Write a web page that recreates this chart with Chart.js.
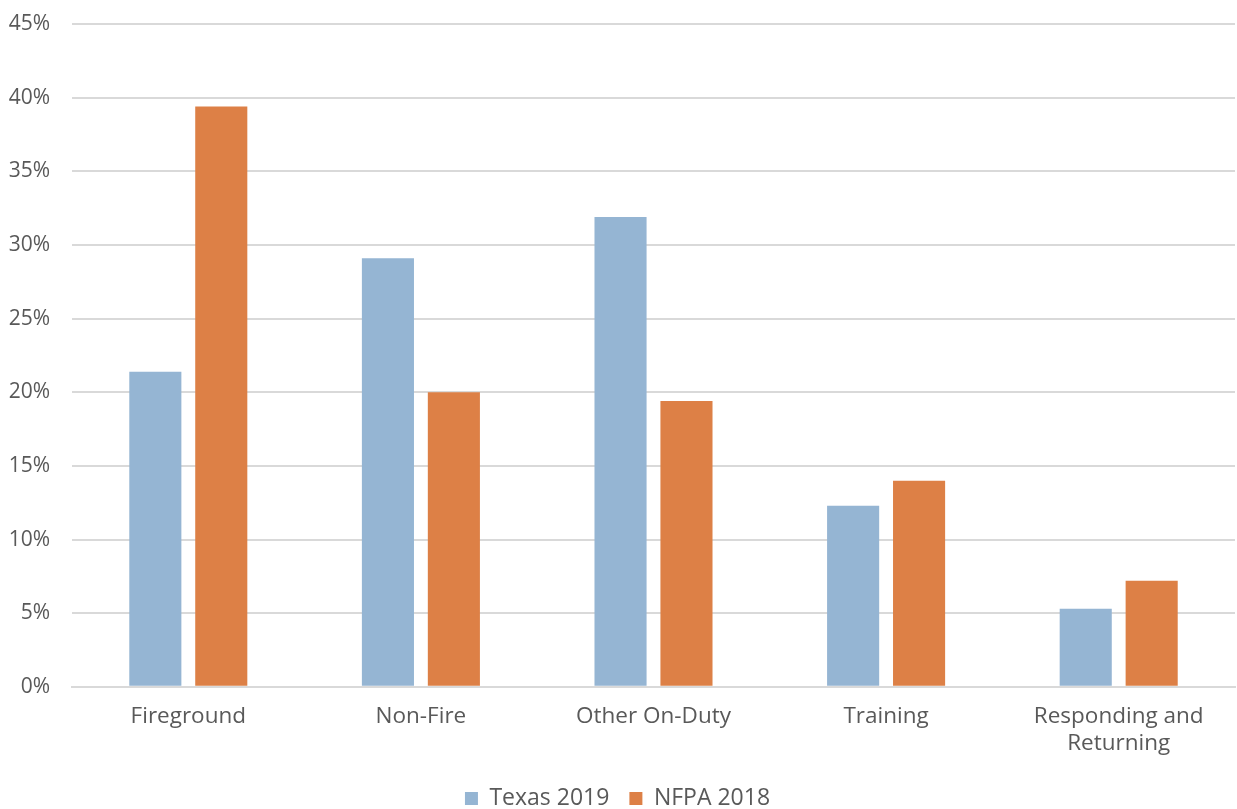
<!DOCTYPE html>
<html>
<head>
<meta charset="utf-8">
<script src="https://cdn.jsdelivr.net/npm/chart.js@4.4.0/dist/chart.umd.min.js"></script>
<style>
  html, body { margin: 0; padding: 0; background: #fff; }
  #wrap { width: 1237px; height: 809px; }
</style>
</head>
<body>
<div id="wrap"><canvas id="chart" width="1237" height="809"></canvas></div>
<script>
const categories = ['Fireground', 'Non-Fire', 'Other On-Duty', 'Training', ['Responding and', 'Returning']];
const texas2019 = [21.4, 29.1, 31.9, 12.3, 5.3];
const nfpa2018 = [39.4, 20.0, 19.4, 14.0, 7.2];
const yTicks = [0, 5, 10, 15, 20, 25, 30, 35, 40, 45];

const textColor = '#595959';
const fontFamily = '"Open Sans", sans-serif';

new Chart(document.getElementById('chart'), {
  type: 'bar',
  data: {
    labels: categories,
    datasets: [{
      label: 'Texas 2019',
      data: texas2019,
      backgroundColor: '#95b5d3',
      categoryPercentage: 0.567,
      barPercentage: 0.79
    }, {
      label: 'NFPA 2018',
      data: nfpa2018,
      backgroundColor: '#dd8046',
      categoryPercentage: 0.567,
      barPercentage: 0.79
    }]
  },
  options: {
    responsive: false,
    animation: false,
    layout: { padding: { top: 0, right: 2, left: 0, bottom: -11 } },
    scales: {
      x: {
        grid: { display: false },
        border: { color: '#d9d9d9', width: 2 },
        ticks: { color: textColor, font: { family: fontFamily, size: 22.5, lineHeight: 1.2 }, padding: 8, maxRotation: 0 }
      },
      y: {
        min: 0,
        max: 45,
        afterBuildTicks: axis => { axis.ticks = yTicks.map(v => ({ value: v })); },
        afterFit: axis => { axis.width = 72; },
        grid: { color: '#d9d9d9', lineWidth: 2, drawTicks: false },
        border: { display: false },
        ticks: {
          color: textColor,
          font: { family: fontFamily, size: 21, lineHeight: 0.2 },
          padding: 22,
          callback: v => v + '%'
        }
      }
    },
    plugins: {
      legend: {
        position: 'bottom',
        title: { display: true, text: '', font: { size: 1 }, padding: { top: 0, bottom: 1 } },
        labels: {
          color: textColor,
          font: { family: fontFamily, size: 23 },
          boxWidth: 13,
          boxHeight: 13,
          padding: 20
        }
      },
      tooltip: { enabled: false }
    }
  }
});
</script>
</body>
</html>
